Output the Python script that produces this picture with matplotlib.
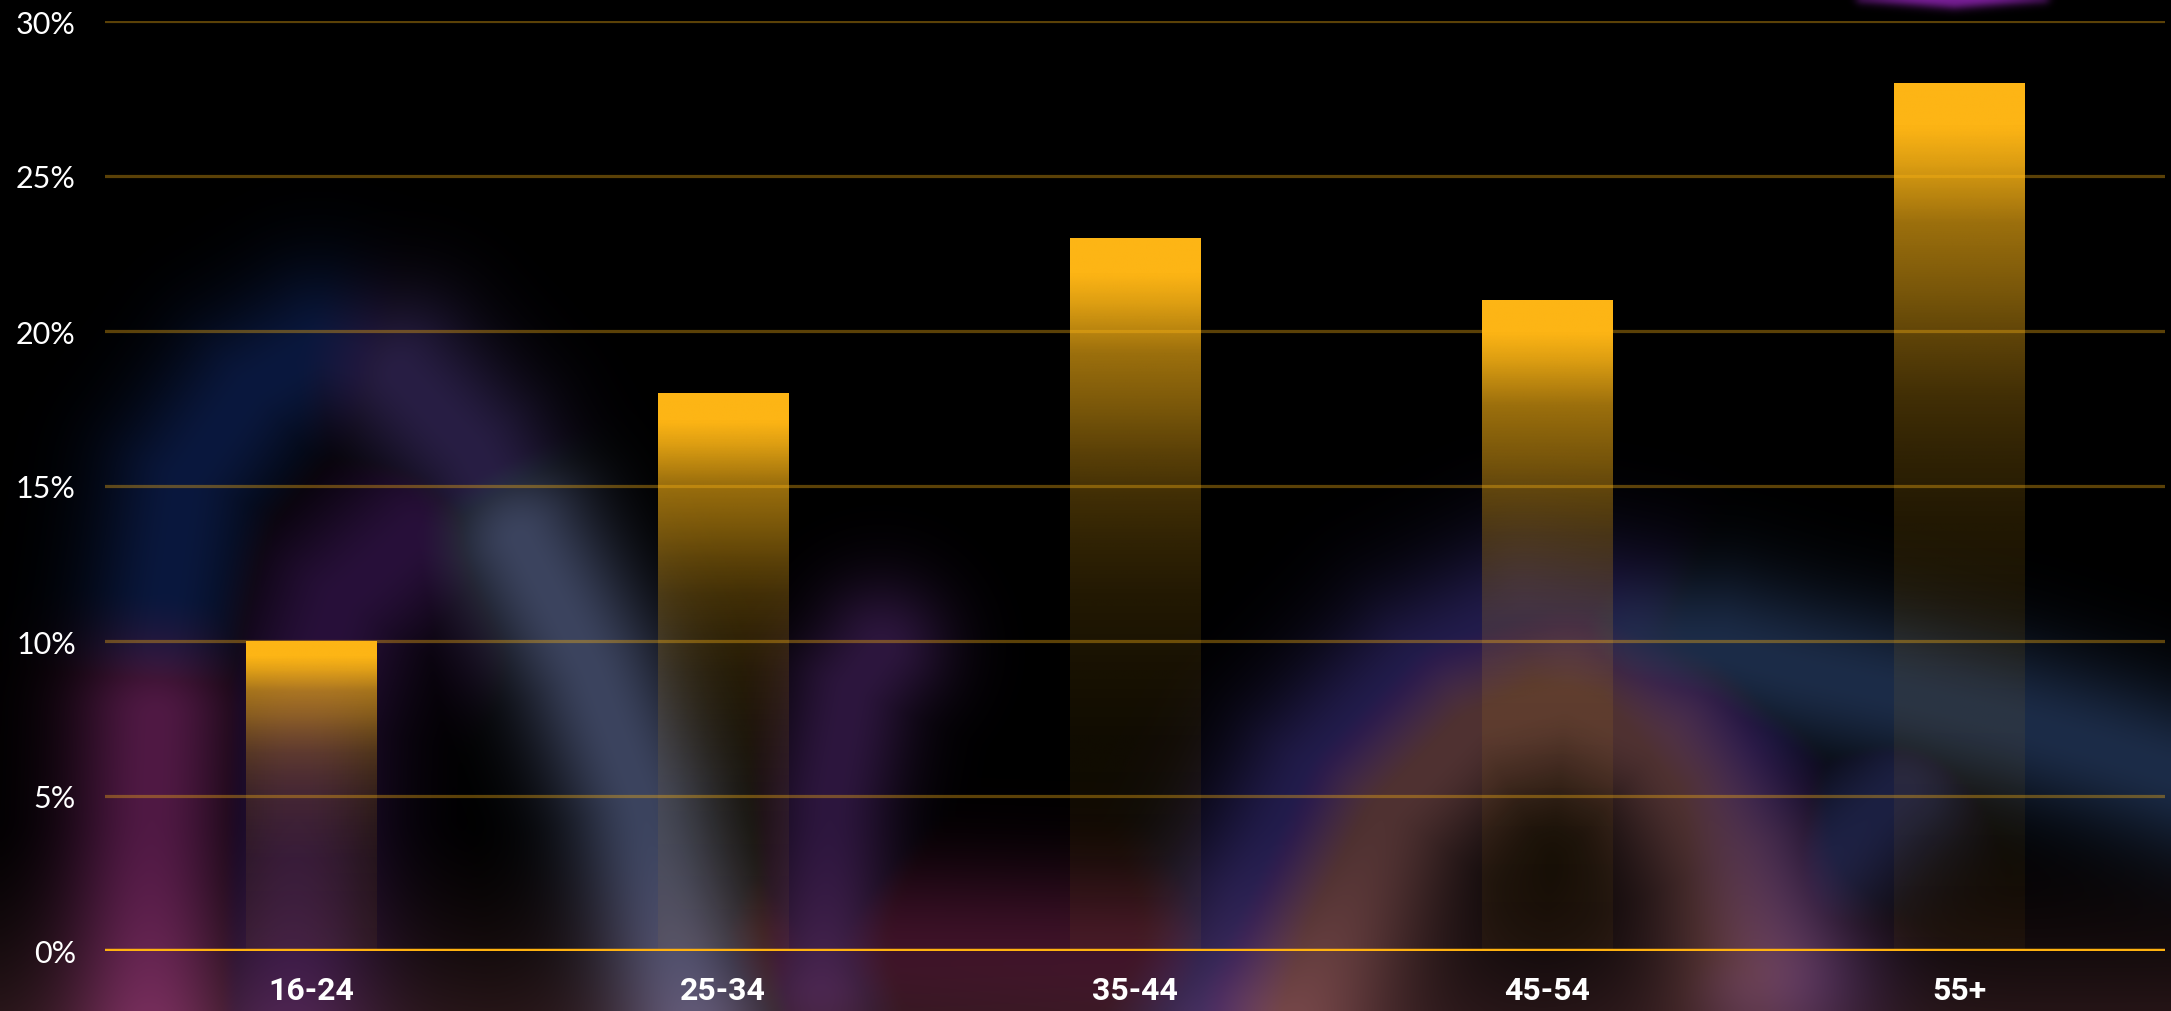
import numpy as np
import matplotlib
matplotlib.use("Agg")
import matplotlib.pyplot as plt
from matplotlib.ticker import FuncFormatter

# data
age_groups = ["16-24", "25-34", "35-44", "45-54", "55+"]
shares = [10, 18, 23, 21, 28]  # percent
y_ticks = [0, 5, 10, 15, 20, 25, 30]

W, H = 2171, 1012
GOLD = "#FDB515"


def blurred_background(w, h, step=4):
    # soft coloured arcs behind the chart (decoration only)
    xs = (np.arange(w // step) + 0.5) * step
    ys = (np.arange(h // step) + 0.5) * step
    X, Y = np.meshgrid(xs, ys)
    img = np.zeros(X.shape + (3,))

    arcs = [
        # (points, rgb, sigma)
        # left outer arch: blue top, magenta left leg, grey-blue right leg
        ([(160, 650), (185, 480), (250, 390), (318, 350), (400, 375)], (10, 24, 62), 60),
        ([(150, 1050), (150, 880), (155, 720)], (80, 25, 68), 60),
        ([(400, 375), (470, 450), (520, 540)], (40, 30, 68), 60),
        ([(520, 540), (590, 670), (640, 800), (690, 1012)], (60, 68, 95), 58),
        # left inner arch, purple
        ([(290, 1012), (300, 720), (340, 600), (415, 535), (490, 560), (530, 620)],
         (40, 16, 58), 65),
        # blob right of the second bar
        ([(820, 980), (830, 800), (850, 690), (880, 650)], (45, 22, 62), 50),
        # reddish haze along the bottom middle
        ([(700, 960), (900, 940), (1150, 950)], (42, 8, 28), 60),
        # right outer arch, purple/blue
        ([(1218, 1012), (1250, 900), (1315, 775), (1420, 670), (1523, 620),
          (1630, 640), (1731, 760), (1786, 969)], (34, 28, 76), 65),
        # right inner arch, orange/pink
        ([(1290, 1012), (1329, 930), (1385, 810), (1470, 725), (1565, 700),
          (1660, 745), (1731, 858), (1760, 960)], (80, 50, 50), 68),
        # right blue arc running off the edge
        ([(1634, 650), (1720, 650), (1800, 672), (1900, 695), (2008, 722),
          (2100, 750), (2190, 780)], (28, 44, 72), 58),
        ([(1760, 980), (1820, 860), (1900, 790)], (28, 32, 66), 55),
        # bright purple rim at the top edge
        ([(1860, -4), (1952, 3), (2040, -4)], (120, 30, 150), 5),
    ]
    for pts, rgb, sig in arcs:
        pts = np.array(pts, dtype=float)
        d2 = np.full(X.shape, np.inf)
        for (x0, y0), (x1, y1) in zip(pts[:-1], pts[1:]):
            dx, dy = x1 - x0, y1 - y0
            t = ((X - x0) * dx + (Y - y0) * dy) / (dx * dx + dy * dy)
            t = np.clip(t, 0, 1)
            dd = (X - x0 - t * dx) ** 2 + (Y - y0 - t * dy) ** 2
            d2 = np.minimum(d2, dd)
        img = np.maximum(img, np.exp(-d2 / (2 * sig ** 2))[..., None] * np.array(rgb) / 255)

    # warm haze along the bottom
    haze = np.clip((Y - 820) / 190, 0, 1) ** 1.5
    img += haze[..., None] * np.array([36, 20, 22]) / 255
    return np.clip(img, 0, 1)


fig = plt.figure(figsize=(W / 100, H / 100), dpi=100, facecolor="black")

bg = fig.add_axes([0, 0, 1, 1], zorder=0)
bg.imshow(blurred_background(W, H), extent=(0, W, H, 0), aspect="auto",
          interpolation="bicubic")
bg.set_xlim(0, W)
bg.set_ylim(H, 0)
bg.axis("off")

ax = fig.add_axes([105 / W, 1 - 952 / H, (2165 - 105) / W, (952 - 22) / H], zorder=1)
ax.patch.set_alpha(0)

x = np.arange(len(age_groups))
bars = ax.bar(x, shares, width=0.316, color="none", edgecolor="none", zorder=2)

# vertical fade: solid gold at the top, almost transparent at the base
grad_t = np.linspace(0, 1, 256)[:, None]
alpha = np.interp(grad_t, [0, 0.3, 0.4, 0.5, 0.57, 0.64, 0.7, 0.76, 0.84, 0.91, 0.95, 1.0],
                  [0.05, 0.07, 0.1, 0.14, 0.19, 0.26, 0.36, 0.48, 0.62, 0.88, 1.0, 1.0])
gold_rgb = np.array(matplotlib.colors.to_rgb(GOLD))
grad = np.zeros((256, 1, 4))
grad[..., :3] = gold_rgb
grad[..., 3] = alpha
for rect in bars:
    x0, w, h = rect.get_x(), rect.get_width(), rect.get_height()
    ax.imshow(grad, extent=(x0, x0 + w, 0, h), origin="lower", aspect="auto",
              interpolation="bilinear", zorder=2)

ax.set_xlim(-0.5, len(age_groups) - 0.5)
ax.set_ylim(0, 30)
ax.set_yticks(y_ticks)
ax.yaxis.set_major_formatter(FuncFormatter(lambda v, _: f"{v:.0f}%"))
ax.set_xticks(x)
ax.set_xticklabels(age_groups)

for v in y_ticks[1:]:
    ax.axhline(v, color=GOLD, alpha=0.36, lw=2.3, zorder=3)
ax.axhline(0, color="#FFB210", lw=3.2, zorder=4)

for s in ax.spines.values():
    s.set_visible(False)
ax.tick_params(axis="both", length=0)
ax.tick_params(axis="y", pad=21, labelcolor="white")
ax.tick_params(axis="x", pad=17, labelcolor="white")
for lbl in ax.get_yticklabels():
    lbl.set_fontfamily(["Lato", "DejaVu Sans"])
    lbl.set_fontsize(22)
for lbl in ax.get_xticklabels():
    lbl.set_fontfamily(["Roboto", "DejaVu Sans"])
    lbl.set_fontweight("bold")
    lbl.set_fontsize(23)

fig.savefig("out.png", dpi=100, facecolor="black")
